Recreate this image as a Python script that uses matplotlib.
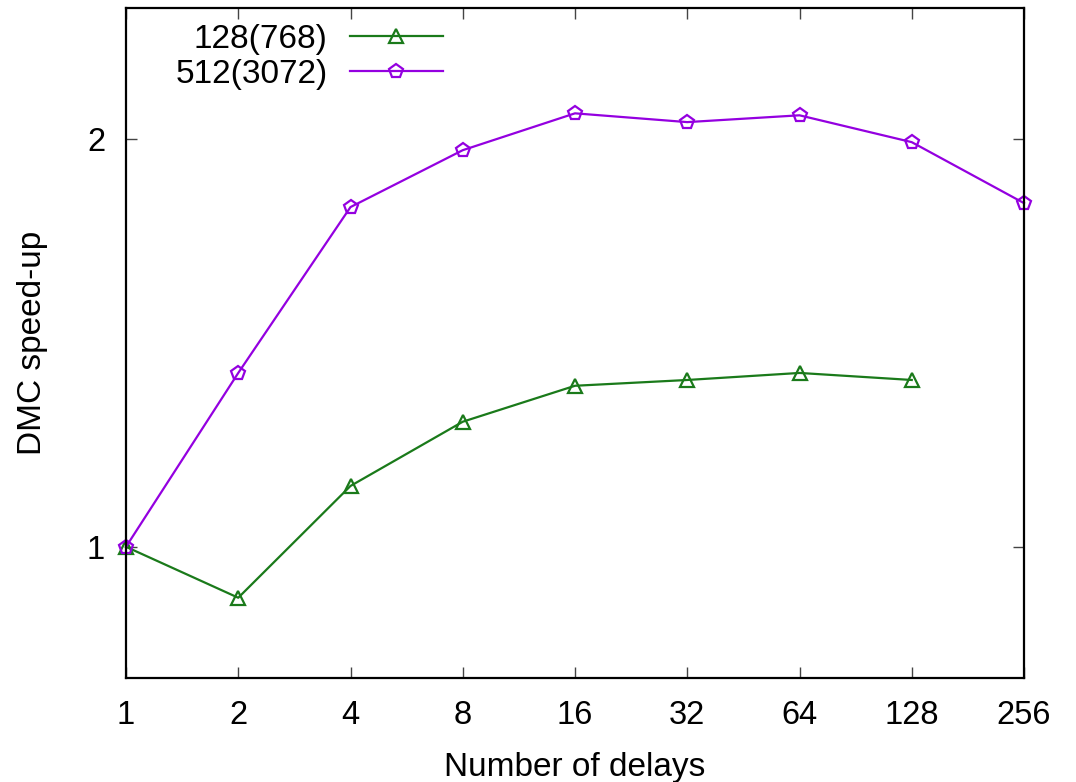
import matplotlib
matplotlib.use("Agg")
import matplotlib.pyplot as plt
from matplotlib.ticker import FixedLocator, NullLocator

plt.rcParams['font.family'] = ['Liberation Sans', 'DejaVu Sans']

# delays (log2 axis)
delays = [1, 2, 4, 8, 16, 32, 64, 128, 256]
delay_labels = ['1', '2', '4', '8', '16', '32', '64', '128', '256']

# speed-up
speedup_128 = [1.0, 0.917, 1.109, 1.237, 1.315, 1.328, 1.344, 1.328]
speedup_512 = [1.0, 1.344, 1.782, 1.963, 2.090, 2.059, 2.083, 1.990, 1.794]

fig = plt.figure(figsize=(10.76, 7.82), dpi=100)
ax = fig.add_axes([126/1076, 1 - 678/782, (1024-126)/1076, (678-8)/782])

ax.plot(delays[:len(speedup_128)], speedup_128, color='#1a7a1a', lw=1.6,
        marker='^', ms=10, mfc='none', mew=1.6, label='128(768)', clip_on=False)
ax.plot(delays, speedup_512, color='#9400e0', lw=1.6,
        marker='p', ms=10, mfc='none', mew=1.6, label='512(3072)', clip_on=False)

ax.set_xscale('log', base=2)
ax.set_yscale('log')
ax.set_xlim(1, 256)
ax.set_ylim(0.8, 2.5)
ax.xaxis.set_major_locator(FixedLocator(delays))
ax.xaxis.set_minor_locator(NullLocator())
ax.set_xticklabels(delay_labels)
ax.yaxis.set_major_locator(FixedLocator([1, 2]))
ax.yaxis.set_minor_locator(NullLocator())
ax.set_yticklabels(['1', '2'])

ax.tick_params(direction='in', length=8, width=1, top=True, right=True,
               labelsize=23.5, color='#444444')
ax.tick_params(axis='x', pad=16)
ax.tick_params(axis='y', pad=15)
for s in ax.spines.values():
    s.set_linewidth(1.6)

ax.set_xlabel('Number of delays', fontsize=24, labelpad=15)
ax.set_ylabel('DMC speed-up', fontsize=24, labelpad=28)

ax.legend(loc='upper right', bbox_to_anchor=(443/1076, 1 - 24/782),
          bbox_transform=fig.transFigure, frameon=False, markerfirst=False,
          fontsize=24, handlelength=2.8, handletextpad=0.66,
          labelspacing=0.12, borderpad=0, borderaxespad=0)

fig.savefig('out.png', dpi=100)
